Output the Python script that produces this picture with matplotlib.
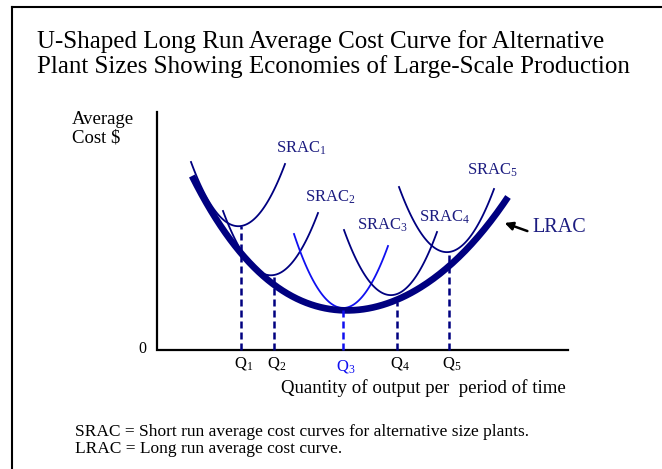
import numpy as np
import matplotlib.pyplot as plt
from matplotlib.lines import Line2D

plt.rcParams['font.family'] = ['Liberation Serif', 'DejaVu Serif']
plt.rcParams['mathtext.default'] = 'regular'

navy = '#000080'
blue = '#1010f0'
label_navy = '#1c1c80'

# points (x = quantity, y = cost), in plot units
lrac_x = [35, 84, 117, 186, 240, 292, 351]
lrac_y = [174, 97, 65, 40, 50, 84, 153]

# each short run curve: left end, bottom, right end
srac_x = [[34, 84, 128], [66, 117, 161], [137, 186, 231], [187, 240, 280], [242, 292, 337]]
srac_y = [[188, 124, 186], [139, 75, 137], [116, 42, 104], [120, 56, 118], [163, 98, 161]]
srac_names = ['1', '2', '3', '4', '5']
srac_label_pos = [(119, 202), (148, 153), (200, 125), (262, 133), (310, 180)]

q_x = [84, 117, 186, 240, 292]
q_top = [124, 75, 40, 48, 98]
q_names = ['1', '2', '3', '4', '5']

fig = plt.figure(figsize=(6.62, 4.69), dpi=100)
ax = fig.add_axes([0, 0, 1, 1])
ax.set_xlim(-157, 505)
ax.set_ylim(-119, 350)
ax.axis('off')

# outer frame (left and top)
fig.add_artist(Line2D([12 / 662, 12 / 662], [0, 1 - 7 / 469], color='black', lw=1.5))
fig.add_artist(Line2D([12 / 662, 1], [1 - 7 / 469, 1 - 7 / 469], color='black', lw=1.5))

# axes lines
ax.plot([0, 0, 411], [238, 0, 0], color='black', lw=1.6, solid_joinstyle='miter')

# short run curves
for i in range(5):
    coef = np.polyfit(srac_x[i], srac_y[i], 2)
    xs = np.linspace(srac_x[i][0], srac_x[i][2], 100)
    col = blue if i == 2 else navy
    ax.plot(xs, np.polyval(coef, xs), color=col, lw=1.3)
    lx, ly = srac_label_pos[i]
    ax.text(lx, ly, 'SRAC$_{' + srac_names[i] + '}$', color=label_navy,
            fontsize=12, ha='left', va='center')

# long run curve
coef = np.polyfit(lrac_x, lrac_y, 4)
xs = np.linspace(lrac_x[0], lrac_x[-1], 200)
ax.plot(xs, np.polyval(coef, xs), color=navy, lw=4.8, solid_capstyle='butt')

# dashed guides and Q labels
for i in range(5):
    col = blue if i == 2 else navy
    ax.plot([q_x[i], q_x[i]], [0, q_top[i]], color=col, lw=1.8,
            linestyle=(0, (2.8, 1.6)))
    ax.text(q_x[i] + 3, -13 if i != 2 else -16, 'Q$_{' + q_names[i] + '}$',
            color=col if i == 2 else 'black', fontsize=12, ha='center', va='center')

ax.text(-15, 1, '0', fontsize=11.5, ha='center', va='center')
ax.text(-85, 231, 'Average', fontsize=13.5, ha='left', va='center')
ax.text(-85, 212, 'Cost $', fontsize=13.5, ha='left', va='center')

# LRAC label with arrow
ax.annotate('', xy=(345, 128), xytext=(373, 118),
            arrowprops=dict(arrowstyle='-|>', color='black', lw=1.8, mutation_scale=12))
ax.text(375, 123, 'LRAC', color=label_navy, fontsize=14.5, ha='left', va='center')

ax.text(124, -38, 'Quantity of output per  period of time', fontsize=13.6,
        ha='left', va='center')

ax.text(-120, 308, 'U-Shaped Long Run Average Cost Curve for Alternative',
        fontsize=18, ha='left', va='center')
ax.text(-120, 283, 'Plant Sizes Showing Economies of Large-Scale Production',
        fontsize=18, ha='left', va='center')

ax.text(-82, -82, 'SRAC = Short run average cost curves for alternative size plants.',
        fontsize=12.5, ha='left', va='center')
ax.text(-82, -99, 'LRAC = Long run average cost curve.',
        fontsize=12.5, ha='left', va='center')

fig.savefig('out.png', dpi=100)
